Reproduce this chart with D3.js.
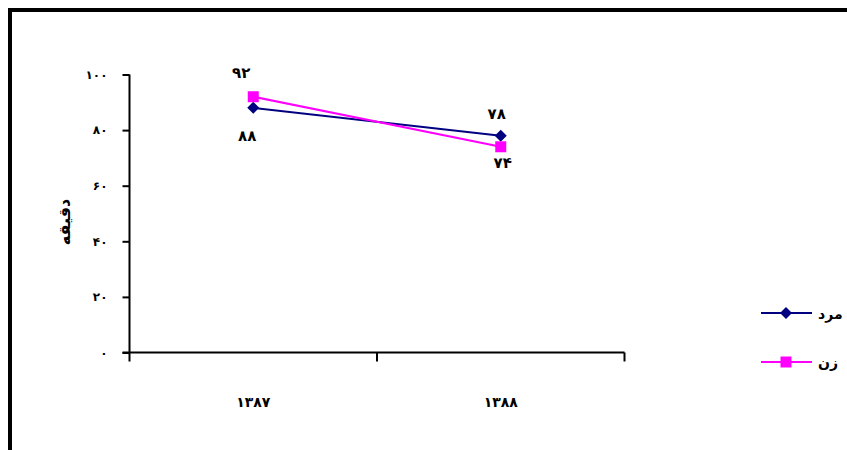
<!DOCTYPE html>
<html><head><meta charset="utf-8">
<script src="https://cdn.jsdelivr.net/npm/d3@7/dist/d3.min.js"></script>
<style>body{margin:0;background:#fff}svg{display:block}text{font-family:"DejaVu Sans",sans-serif;font-weight:bold;fill:#000}</style>
</head><body><svg id="c" width="847" height="450"></svg>
<script>
const categories = ["۱۳۸۷", "۱۳۸۸"];
const seriesNames = ["مرد", "زن"];
const menValues = [88, 78];
const womenValues = [92, 74];
const yTicks = [0, 20, 40, 60, 80, 100];
const yTitle = "دقیقه";
const colors = ["#000080", "#FF00FF"];

const fa = n => String(n).replace(/\d/g, d => "۰۱۲۳۴۵۶۷۸۹"[d]);
const svg = d3.select("#c");

// outer frame
svg.append("path").attr("d", "M10,452 L10,10 L849,10").attr("fill", "none")
  .attr("stroke", "#000").attr("stroke-width", 4);

const x0 = 129.5, x1 = 624.5, yb = 352.5, yt = 74.5;
const x = d3.scaleBand().domain(categories).range([x0, x1]);
const y = d3.scaleLinear().domain([0, 100]).range([yb, yt]);

// y axis
const ya = svg.append("g").attr("transform", `translate(${x0},0)`)
  .call(d3.axisLeft(y).tickValues(yTicks).tickSize(7).tickPadding(15).tickFormat(fa));
ya.select(".domain").attr("stroke", "#000").attr("stroke-width", 2).attr("d", `M0,${yt}V${yb + 9}`);
ya.selectAll(".tick line").attr("stroke", "#000").attr("stroke-width", 2);
ya.selectAll(".tick text").style("font-size", "12px").attr("fill", "#000");

// x axis
const xa = svg.append("g").attr("transform", `translate(0,${yb})`)
  .call(d3.axisBottom(x).tickSize(0).tickPadding(45).tickFormat(d => d));
xa.select(".domain").attr("stroke", "#000").attr("stroke-width", 2).attr("d", `M${x0 - 7},0H${x1}`);
xa.selectAll(".tick text").style("font-size", "14px").attr("fill", "#000");
const bounds = [x0, ...categories.map(c => x(c) + x.bandwidth())];
svg.append("g").selectAll("line").data(bounds.slice(1)).join("line")
  .attr("x1", d => d).attr("x2", d => d).attr("y1", yb).attr("y2", yb + 9)
  .attr("stroke", "#000").attr("stroke-width", 2);

// y title
svg.append("text").attr("transform", "translate(70,222) rotate(-90)")
  .attr("text-anchor", "middle").style("font-size", "16px").text(yTitle);

const cx = c => x(c) + x.bandwidth() / 2;
const series = [menValues, womenValues];
const line = d3.line().x((d, i) => cx(categories[i])).y(d => y(d));

series.forEach((vals, s) => {
  svg.append("path").datum(vals).attr("d", line).attr("fill", "none")
    .attr("stroke", colors[s]).attr("stroke-width", 2);
});
function marker(g, s, px, py) {
  if (s === 0) {
    g.append("path").attr("d", `M${px},${py - 6}L${px + 6},${py}L${px},${py + 6}L${px - 6},${py}Z`)
      .attr("fill", colors[0]);
  } else {
    g.append("rect").attr("x", px - 5.5).attr("y", py - 5.5).attr("width", 11).attr("height", 11)
      .attr("fill", colors[1]);
  }
}
const mg = svg.append("g");
series.forEach((vals, s) => vals.forEach((v, i) => marker(mg, s, cx(categories[i]), y(v))));

// data labels: higher point label above, lower below
const lg = svg.append("g");
const aboveOff = [[-12, -19], [-4, -17]];
const belowOff = [[-6, 33], [2, 21]];
categories.forEach((c, i) => {
  const vm = menValues[i], vw = womenValues[i];
  const hi = Math.max(vm, vw), lo = Math.min(vm, vw);
  lg.append("text").attr("x", cx(c) + aboveOff[i][0]).attr("y", y(hi) + aboveOff[i][1]).attr("text-anchor", "middle")
    .style("font-size", "15px").text(fa(hi));
  lg.append("text").attr("x", cx(c) + belowOff[i][0]).attr("y", y(lo) + belowOff[i][1]).attr("text-anchor", "middle")
    .style("font-size", "15px").text(fa(lo));
});

// legend
const leg = svg.append("g");
seriesNames.forEach((n, s) => {
  const ly = 313 + s * 49;
  leg.append("line").attr("x1", 761).attr("x2", 812).attr("y1", ly).attr("y2", ly)
    .attr("stroke", colors[s]).attr("stroke-width", 2);
  marker(leg, s, 786, ly);
  leg.append("text").attr("x", 818).attr("y", ly + 6).style("font-size", "14px").text(n);
});
</script></body></html>
